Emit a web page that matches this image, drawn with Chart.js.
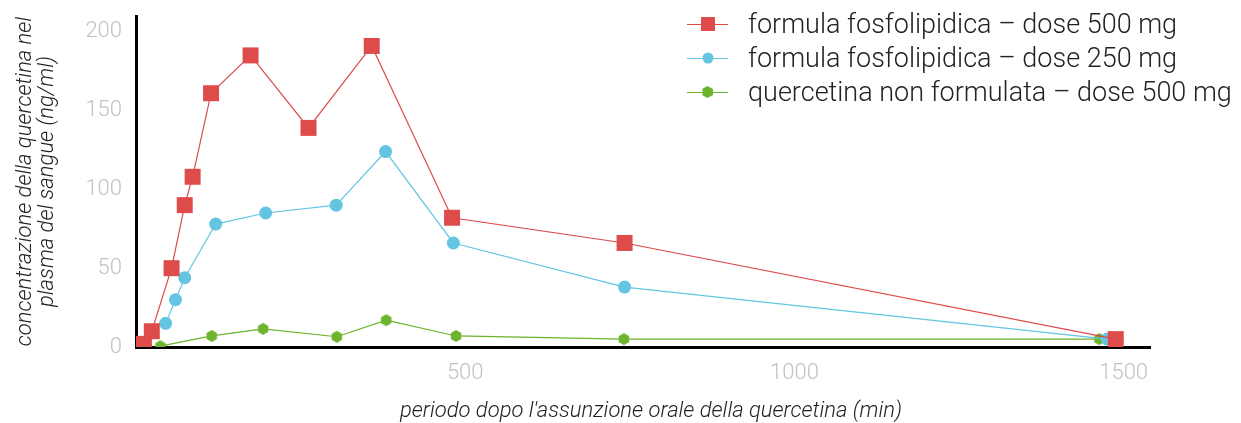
<!DOCTYPE html>
<html>
<head>
<meta charset="utf-8">
<script src="https://cdn.jsdelivr.net/npm/chart.js@4.4.1/dist/chart.umd.min.js"></script>
<style>
  body { margin: 0; background: #fff; }
  #wrap { position: relative; width: 1241px; height: 423px; }
  #legend { position: absolute; left: 687px; top: 7px; font-family: Roboto, sans-serif; font-weight: 300; font-size: 27px; color: #222; }
  .row { display: flex; align-items: center; height: 34px; }
  .sym { position: relative; width: 41px; height: 14px; margin-right: 20px; }
  .sym .ln { position: absolute; left: 0; right: 0; top: 6.5px; height: 1px; }
  .sym .mk { position: absolute; left: 50%; top: 50%; transform: translate(-50%, -50%); }
</style>
</head>
<body>
<div id="wrap">
  <canvas id="chart" width="1241" height="423"></canvas>
  <div id="legend"></div>
</div>
<script>
// time (min) and concentration (ng/ml)
const redTime = [12, 24, 54, 74, 86, 114, 174, 262, 358, 480, 742, 1488];
const redConc = [2, 10, 50, 90, 108, 161, 185, 139, 191, 82, 66, 5];

const blueTime = [45, 60, 74, 121, 197, 304, 379, 482, 742, 1475];
const blueConc = [15, 30, 44, 78, 85, 90, 124, 66, 38, 5];

const greenTime = [37, 115, 193, 305, 380, 486, 741, 1463];
const greenConc = [0.5, 7, 11.5, 6.5, 17, 7, 5, 5];

const seriesNames = [
    'formula fosfolipidica \u2013 dose 500 mg',
    'formula fosfolipidica \u2013 dose 250 mg',
    'quercetina non formulata \u2013 dose 500 mg'
];
const xTicks = [500, 1000, 1500];
const yTicks = [0, 50, 100, 150, 200];

const RED = '#dd4b4b';
const BLUE = '#63c5e2';
const GREEN = '#6cb42b';

// hexagon marker, Chart.js has none
function hexagon(r, color) {
    const c = document.createElement('canvas');
    const s = Math.ceil(r * 2) + 2;
    c.width = s; c.height = s;
    const g = c.getContext('2d');
    g.fillStyle = color;
    g.beginPath();
    for (let i = 0; i < 6; i++) {
        const a = Math.PI / 3 * i - Math.PI / 2;
        const x = s / 2 + r * Math.cos(a), y = s / 2 + r * Math.sin(a);
        if (i) g.lineTo(x, y); else g.moveTo(x, y);
    }
    g.closePath();
    g.fill();
    return c;
}

const pairs = (xs, ys) => xs.map((x, i) => ({ x: x, y: ys[i] }));

const tickFont = { family: 'Roboto', weight: '300', size: 22 };
const titleFont = { family: 'Roboto', weight: '300', style: 'italic', size: 22, lineHeight: 1.0 };

const ctx = document.getElementById('chart').getContext('2d');
const chart = new Chart(ctx, {
    type: 'line',
    data: {
        datasets: [
            {
                label: seriesNames[0],
                data: pairs(redTime, redConc),
                borderColor: RED,
                backgroundColor: RED,
                borderWidth: 1.2,
                pointStyle: 'rect',
                pointRadius: 11.3,
                pointBorderWidth: 0
            },
            {
                label: seriesNames[1],
                data: pairs(blueTime, blueConc),
                borderColor: BLUE,
                backgroundColor: BLUE,
                borderWidth: 1.2,
                pointStyle: 'circle',
                pointRadius: 6.5,
                pointBorderWidth: 0
            },
            {
                label: seriesNames[2],
                data: pairs(greenTime, greenConc),
                borderColor: GREEN,
                backgroundColor: GREEN,
                borderWidth: 1.2,
                pointStyle: hexagon(6, GREEN),
                pointRadius: 6,
                pointBorderWidth: 0
            }
        ]
    },
    options: {
        responsive: false,
        animation: false,
        layout: { padding: { top: 16, right: 91, left: 0, bottom: 0 } },
        plugins: {
            legend: { display: false },
            tooltip: { enabled: false }
        },
        scales: {
            x: {
                type: 'linear',
                min: 0,
                max: 1540,
                grid: { display: false, drawTicks: false },
                border: { display: true, color: '#000', width: 3 },
                afterBuildTicks: (s) => { s.ticks = xTicks.map(v => ({ value: v })); },
                afterFit: (s) => { s.height = 76; s.paddingLeft = 0; s.paddingRight = 0; },
                ticks: {
                    color: '#c2c2c2',
                    padding: 13,
                    maxRotation: 0,
                    font: tickFont,
                    callback: (v) => String(v)
                },
                title: {
                    display: true,
                    text: "\u00a0\u00a0\u00a0periodo dopo l'assunzione orale della quercetina (min)",
                    color: '#222',
                    padding: { top: 0, bottom: 1 },
                    font: titleFont
                }
            },
            y: {
                min: 0,
                max: 210,
                grid: { display: false, drawTicks: false },
                border: { display: true, color: '#000', width: 3 },
                afterBuildTicks: (s) => { s.ticks = yTicks.map(v => ({ value: v })); },
                afterFit: (s) => { s.width = 136; s.paddingTop = 0; s.paddingBottom = 0; },
                ticks: {
                    color: '#c2c2c2',
                    padding: 14,
                    font: tickFont
                },
                title: {
                    display: true,
                    text: ['concentrazione della quercetina nel', 'plasma del sangue (ng/ml)'],
                    color: '#222',
                    padding: { top: 14, bottom: 0 },
                    font: titleFont
                }
            }
        }
    }
});

// legend as html, line with marker in the middle
const markers = [
    '<div class="mk" style="width:14px;height:14px;background:' + RED + '"></div>',
    '<div class="mk" style="width:11px;height:11px;border-radius:50%;background:' + BLUE + '"></div>',
    '<div class="mk" style="width:11px;height:12px;background:' + GREEN + ';clip-path:polygon(50% 0,100% 25%,100% 75%,50% 100%,0 75%,0 25%)"></div>'
];
const lineColors = [RED, BLUE, GREEN];
let html = '';
seriesNames.forEach(function(name, i) {
    html += '<div class="row"><div class="sym"><div class="ln" style="background:' + lineColors[i] + '"></div>' +
        markers[i] + '</div><span>' + name + '</span></div>';
});
document.getElementById('legend').innerHTML = html;
</script>
</body>
</html>
